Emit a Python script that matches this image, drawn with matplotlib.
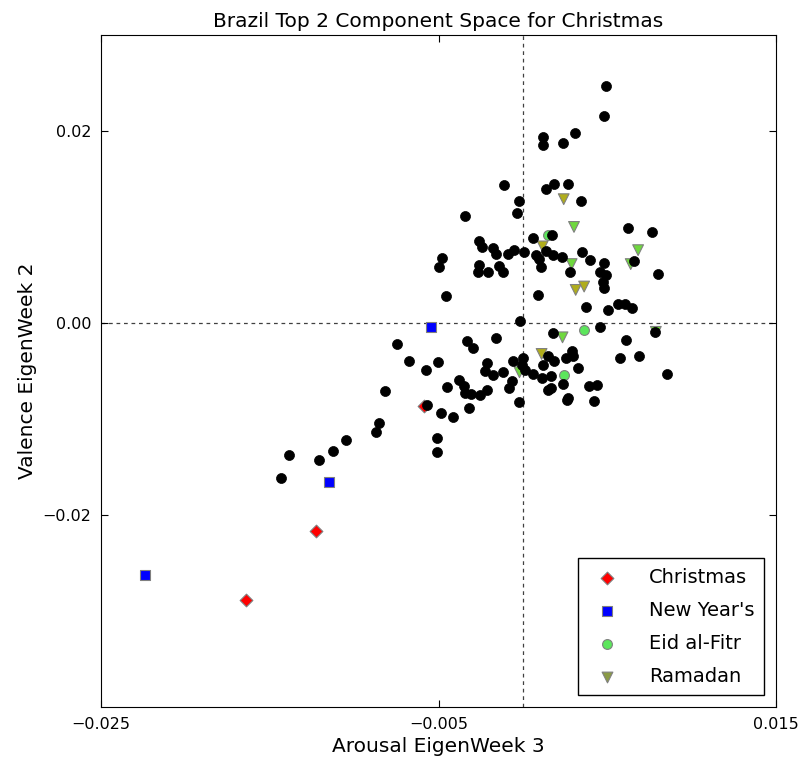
import matplotlib
matplotlib.use('Agg')
import matplotlib.pyplot as plt

# --- data (x: Arousal EigenWeek 3, y: Valence EigenWeek 2)
other_x = [
    0.00492, 0.00478, 0.00310, 0.00120, 0.00117, 0.00235, 0.00135, 0.00184,
    0.00267, 0.00342, 0.00626, 0.00766, 0.00170, 0.00061, 0.00008, 0.00075,
    0.00097, 0.00136, 0.00176, 0.00229, 0.00351, 0.00397, 0.00482, 0.00108,
    0.00660, 0.00279, 0.00456, 0.00492, 0.00803, -0.00111, -0.00025, -0.00034,
    -0.00344, -0.00261, -0.00240, -0.00175, -0.00158, -0.00089, -0.00052, -0.00480,
    -0.00496, -0.00261, -0.00265, -0.00204, -0.00142, -0.00117, 0.00472, 0.00482,
    0.00087, -0.00456,
    0.00372, 0.00505, 0.00562, 0.00604, 0.00644, -0.00018, 0.00458, 0.00785,
    0.00180, 0.00610, 0.00150, 0.00182, 0.00289, 0.00295, 0.00255, -0.00057,
    0.00002, -0.00003, 0.00012, 0.00061, 0.00111, 0.00168, 0.00120, 0.00327,
    0.00239, 0.00150, 0.00164, 0.00259, 0.00267, 0.00422, 0.00393, 0.00437,
    0.00577, 0.00686, 0.00853, -0.00022, -0.00161, -0.00334, -0.00295, -0.00210,
    -0.00223, -0.00176, -0.00120, -0.00067, -0.00081, -0.00379, -0.00350, -0.00341,
    -0.00307, -0.00255, -0.00213, -0.00447, -0.00501, -0.00575, -0.00674, -0.00748,
    -0.00817, -0.00566, -0.00488, -0.00415, -0.00321, -0.00507, -0.00507, -0.00852,
    -0.00873, -0.01049, -0.01126, -0.01209, -0.01385, -0.01432,
]
other_y = [
    0.02468, 0.02156, 0.01979, 0.01938, 0.01854, 0.01872, 0.01394, 0.01446,
    0.01453, 0.01272, 0.00991, 0.00946, 0.00915, 0.00887, 0.00742, 0.00707,
    0.00666, 0.00752, 0.00710, 0.00686, 0.00742, 0.00655, 0.00627, 0.00579,
    0.00642, 0.00530, 0.00527, 0.00502, 0.00510, 0.01435, 0.01272, 0.01151,
    0.01116, 0.00850, 0.00787, 0.00780, 0.00718, 0.00718, 0.00759, 0.00673,
    0.00579, 0.00608, 0.00527, 0.00527, 0.00590, 0.00527, 0.00423, 0.00364,
    0.00291, 0.00284,
    0.00163, 0.00138, 0.00203, 0.00203, 0.00156, 0.00026, -0.00042, -0.00097,
    -0.00106, -0.00177, -0.00343, -0.00392, -0.00296, -0.00340, -0.00366, -0.00398,
    -0.00366, -0.00442, -0.00486, -0.00527, -0.00572, -0.00553, -0.00437, -0.00473,
    -0.00631, -0.00695, -0.00679, -0.00799, -0.00777, -0.00811, -0.00660, -0.00643,
    -0.00367, -0.00345, -0.00528, -0.00822, -0.00156, -0.00184, -0.00260, -0.00414,
    -0.00502, -0.00541, -0.00513, -0.00608, -0.00682, -0.00597, -0.00660, -0.00726,
    -0.00738, -0.00746, -0.00701, -0.00663, -0.00404, -0.00486, -0.00395, -0.00218,
    -0.00704, -0.00858, -0.00936, -0.00978, -0.00881, -0.01199, -0.01347, -0.01043,
    -0.01137, -0.01214, -0.01334, -0.01422, -0.01373, -0.01612,
]

christmas_x = [-0.00587, -0.01228, -0.01640]
christmas_y = [-0.00868, -0.02166, -0.02888]

newyear_x = [-0.00546, -0.01148, -0.02240]
newyear_y = [-0.00045, -0.01654, -0.02621]

eid_x = [0.00150, 0.00364, 0.00244]
eid_y = [0.00918, -0.00073, -0.00543]

ramadan_x = [0.00242, 0.00303, 0.00117, 0.00289, 0.00683, 0.00639,
             0.00313, 0.00363, 0.00235, 0.00111, -0.00020, 0.00788]
ramadan_y = [0.01290, 0.01001, 0.00798, 0.00614, 0.00759, 0.00614,
             0.00345, 0.00380, -0.00149, -0.00322, -0.00513, -0.00092]
# which ramadan markers show the darker olive shade
ramadan_olive = [True, False, True, False, False, False,
                 True, True, False, True, False, False]

x_ticks = [-0.025, -0.005, 0.015]
y_ticks = [-0.02, 0.00, 0.02]

plt.rcParams['xtick.direction'] = 'in'
plt.rcParams['ytick.direction'] = 'in'
plt.rcParams['xtick.top'] = True
plt.rcParams['ytick.right'] = True
plt.rcParams['xtick.major.size'] = 5
plt.rcParams['ytick.major.size'] = 5

fig = plt.figure(figsize=(7.98, 7.70), dpi=100)
ax = fig.add_axes([0.1266, 0.0818, 0.8458, 0.8727])

ax.axhline(0, color='0.25', linestyle=(0, (3, 3)), linewidth=0.9, zorder=0)
ax.axvline(0, color='0.25', linestyle=(0, (3, 3)), linewidth=0.9, zorder=0)

ax.scatter(christmas_x, christmas_y, marker='D', s=42, c='#ff0000',
           edgecolors='gray', linewidths=0.8, label='Christmas', zorder=2)
ax.scatter(newyear_x, newyear_y, marker='s', s=48, c='#0000ff',
           edgecolors='gray', linewidths=0.8, label="New Year's", zorder=2)
ax.scatter(eid_x, eid_y, marker='o', s=50, c='#5ce65c',
           edgecolors='gray', linewidths=0.8, label='Eid al-Fitr', zorder=2)
tri_colors = ['#b0ad1c' if o else '#6fd83e' for o in ramadan_olive]
ax.scatter(ramadan_x, ramadan_y, marker='v', s=60, c=tri_colors,
           edgecolors='gray', linewidths=0.8, label='Ramadan', zorder=2)
ax.scatter(other_x, other_y, marker='o', s=52, c='k', edgecolors='k',
           linewidths=0.5, zorder=3)

ax.set_xlim(-0.025, 0.015)
ax.set_ylim(-0.04, 0.03)
ax.set_xticks(x_ticks)
ax.set_yticks(y_ticks)
ax.set_xticklabels(['\u22120.025', '\u22120.005', '0.015'], fontsize=11.5)
ax.set_yticklabels(['\u22120.02', '0.00', '0.02'], fontsize=11.5)
ax.tick_params(pad=7)

ax.set_title('Brazil Top 2 Component Space for Christmas', fontsize=14.5)
ax.set_xlabel('Arousal EigenWeek 3', fontsize=14.5)
ax.set_ylabel('Valence EigenWeek 2', fontsize=14.5)

leg = ax.legend(loc='lower right', scatterpoints=1, fontsize=14, fancybox=False,
                edgecolor='k', framealpha=1, borderaxespad=0.6,
                handletextpad=1.15, labelspacing=0.72, borderpad=0.5)
leg.get_frame().set_linewidth(1)
leg.legend_handles[3].set_color('#8a9a45')
leg.legend_handles[3].set_edgecolor('gray')

plt.savefig('out.png', dpi=100)
